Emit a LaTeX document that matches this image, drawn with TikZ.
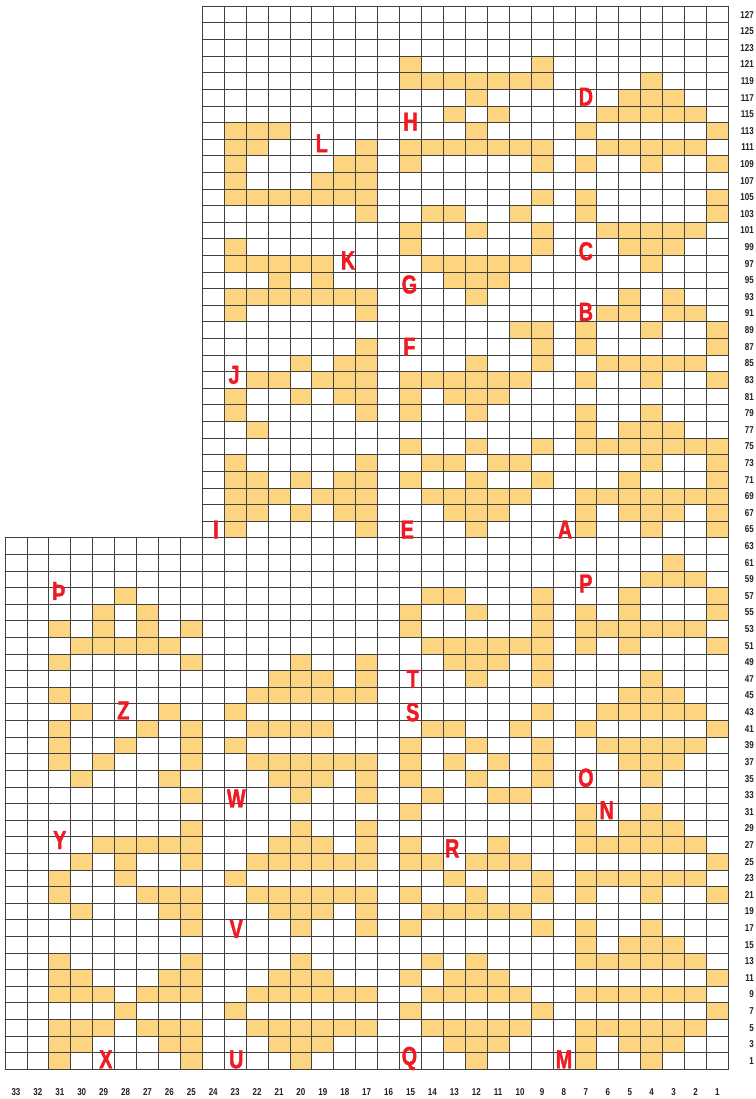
\documentclass[tikz,border=0pt]{standalone}
\usepackage{fontspec}
\setmainfont{Liberation Sans}
\newfontfamily\tagfont[FakeStretch=0.76,FakeBold=1.6]{Liberation Sans}
\newfontfamily\numfont[FakeStretch=0.8]{Liberation Sans}
\definecolor{cellfill}{RGB}{253,213,128}
\definecolor{tagred}{RGB}{237,28,36}
\definecolor{ink}{RGB}{35,31,32}

\begin{document}
\begin{tikzpicture}[x=21.92pt,y=16.61pt,line join=round,line cap=round,
  cell/.style={fill=cellfill},
  gridline/.style={draw=ink!85,line width=0.8pt},
  rowlab/.style={anchor=east,inner sep=0pt,text=ink,font=\numfont\bfseries\fontsize{10}{10}\selectfont},
  collab/.style={inner sep=0pt,text=ink,font=\numfont\bfseries\fontsize{10}{10}\selectfont},
  letterlab/.style={inner sep=0pt,text=tagred,font=\tagfont\bfseries\fontsize{26}{26}\selectfont}]
  \useasboundingbox (-0.228,-1.788) rectangle (34.261,64.377);
  \foreach \r/\cols in {
    1/{31,25,20,12,7,4},
    3/{31,30,26,25,21,20,19,13,12,11,7,5,4,3},
    5/{31,30,29,27,26,25,22,21,20,19,18,17,14,13,12,11,10,7,6,5,4,3,2},
    7/{28,23,15,9,1},
    9/{31,30,29,27,26,25,22,21,20,19,18,17,14,13,12,11,10,7,6,5,4,3,2},
    11/{31,30,26,25,21,20,19,15,13,12,11,1},
    13/{31,25,20,14,12,7,6,5,4,3,2},
    15/{7,5,4,3},
    17/{25,20,17,15,9,7,4},
    19/{30,26,25,21,20,19,17,14,13,12,11,10},
    21/{31,27,26,25,22,21,20,19,18,17,15,12,9,7,4,1},
    23/{31,28,23,13,9,7,6,5,4,3,2},
    25/{30,28,25,22,21,20,19,18,17,15,14,12,11,10,1},
    27/{29,28,27,26,25,21,20,19,17,15,11,7,6,5,4,3,2},
    29/{25,20,17,7,5,4,3},
    31/{15,7,4},
    33/{25,20,17,14,11,10},
    35/{30,26,21,20,19,17,15,12,9,4},
    37/{31,29,25,22,21,20,19,18,17,15,13,11,9,5,4,3},
    39/{31,28,25,23,15,12,9,6,5,4,3,2},
    41/{31,27,25,22,21,20,19,14,13,10,7,1},
    43/{30,26,23,9,6,5,4,3,2},
    45/{31,22,21,20,19,18,17,5,4,3},
    47/{21,20,19,17,12,9,4},
    49/{31,25,20,17,13,12,11,9},
    51/{30,29,28,27,26,14,13,12,11,10,9,7,5,1},
    53/{31,29,27,25,15,9,7,6,5,4,3,2},
    55/{29,27,15,12,9,7,5,1},
    57/{28,14,13,9,5,1},
    59/{4,3,2},
    61/{3},
    65/{23,17,12,7,4,1},
    67/{23,22,20,18,17,13,12,11,7,5,4,3,1},
    69/{23,22,21,19,18,17,14,13,12,11,10,7,6,5,4,3,2,1},
    71/{23,22,20,18,17,15,12,9,5,1},
    73/{23,17,14,13,11,10,4,1},
    75/{15,12,9,7,6,5,4,3,2,1},
    77/{22,7,5,4,3},
    79/{23,17,15,12,7,4},
    81/{23,20,18,17,15,13,12,11},
    83/{22,21,19,18,17,15,14,13,12,11,10,7,4,1},
    85/{20,18,17,12,9,6,5,4,3,2},
    87/{17,9,7,1},
    89/{10,9,7,4,1},
    91/{23,17,6,5,3,2},
    93/{23,22,21,20,19,18,17,12,5,3},
    95/{21,19,13,12,11},
    97/{23,22,21,20,19,14,13,12,11,10,4},
    99/{23,15,9,5,4,3},
    101/{15,12,9,6,5,4,3,2},
    103/{17,14,13,10,7,1},
    105/{23,22,21,20,19,18,17,9,7,1},
    107/{23,19,18,17},
    109/{23,18,17,15,9,7,4,1},
    111/{23,22,17,15,14,13,12,11,10,9,6,5,4,3,2},
    113/{23,22,21,12,7,1},
    115/{13,11,6,5,4,3,2},
    117/{12,5,4,3},
    119/{15,14,13,12,11,10,9,4},
    121/{15,9}}{
    \foreach \c in \cols
      \fill[cell] (33-\c,{(\r-1)/2}) rectangle ++(1,1);
  }
  \foreach \i in {0,...,33}
    \draw[gridline] (\i,0) -- (\i,32);
  \foreach \i in {9,...,33}
    \draw[gridline] (\i,32) -- (\i,64);
  \foreach \j in {0,...,32}
    \draw[gridline] (0,\j) -- (33,\j);
  \foreach \j in {33,...,64}
    \draw[gridline] (9,\j) -- (33,\j);
  \foreach \r in {1,3,...,127}
    \node[rowlab] (row\r) at (34.17,{(\r-1)/2+0.5}) {\r};
  \foreach \c in {1,...,33}
    \node[collab] (col\c) at (33.5-\c,-1.37) {\c};
  \foreach \t/\x/\y [count=\n] in {D/26.5/58.55, H/18.5/57.05, L/14.45/55.75,
    C/26.5/49.25, K/15.65/48.7, G/18.45/47.25, B/26.5/45.6, F/18.45/43.5,
    J/10.45/41.8, I/9.62/32.5, E/18.35/32.5, A/25.55/32.5, Þ/2.45/28.8,
    P/26.5/29.25, T/18.6/23.5, S/18.6/21.5, Z/5.4/21.6, O/26.5/17.55,
    W/10.55/16.3, N/27.45/15.6, Y/2.5/13.8, R/20.4/13.3, V/10.55/8.45,
    X/4.6/0.6, U/10.55/0.6, Q/18.45/0.65, M/25.5/0.6}
    \node[letterlab] (tag\n) at (\x,\y) {\t};
\end{tikzpicture}
\end{document}
